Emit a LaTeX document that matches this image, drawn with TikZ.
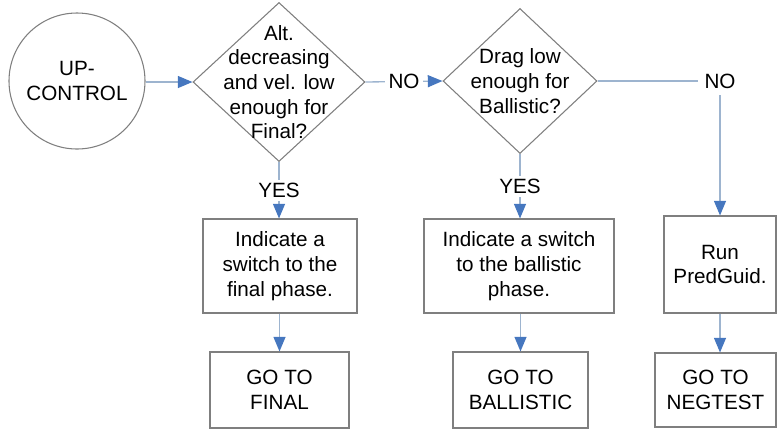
\documentclass[tikz,border=0pt]{standalone}
\usepackage{fontspec}
\setmainfont{Liberation Sans}
\usepackage{tikz}
\usetikzlibrary{arrows.meta, positioning, shapes.geometric}
\definecolor{fcBorder}{HTML}{7F7F7F}
\definecolor{fcLine}{HTML}{9DB4CF}
\definecolor{fcBlue}{HTML}{4677BF}

\begin{document}
\begin{tikzpicture}[x=0.75pt, y=-0.75pt, font=\fontsize{15.5}{18.5}\selectfont,
  start/.style={circle, draw=fcBorder, line width=0.8pt, minimum size=102pt, align=center, inner sep=0pt},
  decide/.style={diamond, draw=fcBorder, line width=0.8pt, inner sep=0pt},
  dtext/.style={align=center, inner sep=0pt},
  proc/.style={rectangle, draw=fcBorder, line width=0.8pt, align=center, inner sep=2pt},
  lnk/.style={draw=fcLine, line width=1pt, -{Triangle[length=11pt, width=9pt, color=fcBlue]}},
  lbl/.style={fill=white, inner sep=2.5pt},
]
  \useasboundingbox (0,0) rectangle (777,430);

  % entry and the two decisions
  \node[start] (up) at (77,81) {UP-\\CONTROL};
  \node[decide, minimum width=129pt, minimum height=119.25pt,
        label={[dtext]center:Alt.\\decreasing\\and vel. low\\enough for\\Final?}] (alt) at (279,82) {};
  \node[decide, minimum width=115.5pt, minimum height=108.75pt,
        label={[dtext]center:Drag low\\enough for\\Ballistic?}] (drag) at (520,81) {};

  % actions
  \node[proc, minimum width=115.5pt, minimum height=70.5pt] (swfinal) at (280,266) {Indicate a\\switch to the\\final phase.};
  \node[proc, minimum width=142.5pt, minimum height=70.5pt] (swball) at (519,266) {Indicate a switch\\to the ballistic\\phase.};
  \node[proc, minimum width=84pt, minimum height=72.75pt] (pred) at (720,264.5) {Run\\PredGuid.};

  % exits
  \node[proc, minimum width=104.25pt, minimum height=57pt] (gofinal) at (279.5,390) {GO TO\\FINAL};
  \node[proc, minimum width=101.25pt, minimum height=57pt] (goball) at (520.5,390) {GO TO\\BALLISTIC};
  \node[proc, minimum width=90.75pt, minimum height=55.5pt] (goneg) at (715.5,390) {GO TO\\NEGTEST};

  % connectors
  \draw[lnk] (up.east |- alt.west) -- (alt.west);
  \draw[lnk] (alt.east) -- node[lbl] {NO} (drag.west);
  \draw[lnk] (alt.south) -- node[lbl] {YES} (swfinal.north -| alt.south);
  \draw[lnk] (drag.south) -- node[lbl] {YES} (swball.north -| drag.south);
  \draw[lnk] (drag.east) -| node[lbl, inner sep=5pt] {NO} (pred.north);
  \draw[lnk] (swfinal.south -| gofinal.north) -- (gofinal.north);
  \draw[lnk] (swball.south -| goball.north) -- (goball.north);
  \draw[lnk] (pred.south) -- (pred.south |- goneg.north);
\end{tikzpicture}
\end{document}
